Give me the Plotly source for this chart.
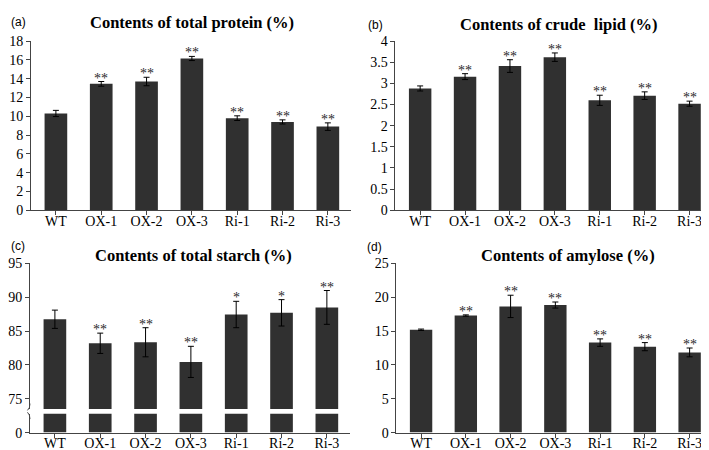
import plotly.graph_objects as go

W, H = 709, 450

lines = ["WT", "OX-1", "OX-2", "OX-3", "Ri-1", "Ri-2", "Ri-3"]

protein = [10.3, 13.45, 13.7, 16.15, 9.8, 9.4, 8.9]
protein_err = [0.33, 0.25, 0.45, 0.22, 0.25, 0.22, 0.4]
protein_sig = ["", "**", "**", "**", "**", "**", "**"]

lipid = [2.88, 3.16, 3.41, 3.62, 2.6, 2.71, 2.52]
lipid_err = [0.06, 0.07, 0.15, 0.1, 0.12, 0.09, 0.06]
lipid_sig = ["", "**", "**", "**", "**", "**", "**"]

starch = [86.75, 83.2, 83.35, 80.45, 87.45, 87.7, 88.5]
starch_err = [1.35, 1.5, 2.15, 2.3, 1.95, 1.95, 2.5]
starch_sig = ["", "**", "**", "**", "*", "*", "**"]

amylose = [15.2, 17.3, 18.65, 18.85, 13.3, 12.7, 11.85]
amylose_err = [0.1, 0.1, 1.65, 0.45, 0.55, 0.6, 0.65]
amylose_sig = ["", "**", "**", "**", "**", "**", "**"]

BAR = "#303030"
AX = "#444444"
SERIF = "Liberation Serif"


def fx(p):
    return p / W


def fy(p):
    return 1 - p / H


fig = go.Figure()


def bars(vals, errs, xa, ya, with_err=True):
    fig.add_trace(go.Bar(
        x=list(range(len(lines))), y=vals, marker_color=BAR, marker_line_width=0,
        error_y=dict(type="data", array=errs, color="black", thickness=1, width=3,
                     visible=with_err),
        xaxis=xa, yaxis=ya, showlegend=False, hoverinfo="skip",
    ))


def stars(vals, errs, sig, xr, yr):
    for i, (v, e, s) in enumerate(zip(vals, errs, sig)):
        if s:
            fig.add_annotation(x=i, y=v + e, xref=xr, yref=yr, text=s, showarrow=False,
                               yanchor="bottom", yshift=-6,
                               font=dict(family=SERIF, size=14, color="#2a2a2a"))


bars(protein, protein_err, "x", "y")
bars(lipid, lipid_err, "x2", "y2")
bars(starch, starch_err, "x3", "y3")
bars(starch, starch_err, "x3", "y5", with_err=False)
bars(amylose, amylose_err, "x4", "y4")

stars(protein, protein_err, protein_sig, "x", "y")
stars(lipid, lipid_err, lipid_sig, "x2", "y2")
stars(starch, starch_err, starch_sig, "x3", "y3")
stars(amylose, amylose_err, amylose_sig, "x4", "y4")

tickfont = dict(family=SERIF, size=14, color="black")
xcommon = dict(range=[-0.55, 6.5], tickmode="array", tickvals=list(range(7)), ticktext=lines,
               showline=True, linecolor=AX, linewidth=1, ticks="outside", ticklen=4,
               tickcolor=AX, tickson="boundaries", tickfont=tickfont, showgrid=False,
               zeroline=False, ticklabelstandoff=-6)
ycommon = dict(showline=True, linecolor=AX, linewidth=1, ticks="outside", ticklen=4,
               tickcolor=AX, tickfont=tickfont, showgrid=False, zeroline=False)

fig.update_layout(
    width=W, height=H, margin=dict(l=0, r=0, t=0, b=0),
    paper_bgcolor="white", plot_bgcolor="white", bargap=0.5, showlegend=False,
    xaxis=dict(domain=[fx(22), fx(342)], anchor="y", **xcommon),
    yaxis=dict(domain=[fy(202), fy(27)], anchor="x", range=[0, 18], dtick=2, **ycommon),
    xaxis2=dict(domain=[fx(387), fx(704)], anchor="y2", **xcommon),
    yaxis2=dict(domain=[fy(202), fy(27)], anchor="x2", range=[0, 4], dtick=0.5, **ycommon),
    xaxis3=dict(domain=[fx(21), fx(341)], anchor="y5", **xcommon),
    yaxis3=dict(domain=[fy(407.5), fy(257)], anchor="x3", range=[73.5, 95],
                tickvals=[75, 80, 85, 90, 95], **ycommon),
    yaxis5=dict(domain=[fy(432), fy(412.5)], anchor="x3", range=[0, 2.75],
                tickvals=[0], **ycommon),
    xaxis4=dict(domain=[fx(388), fx(704)], anchor="y4", **xcommon),
    yaxis4=dict(domain=[fy(432), fy(257)], anchor="x4", range=[0, 25], dtick=5, **ycommon),
)

titles = [
    ("Contents of total protein (%)", 183, 7.5),
    ("Contents of crude  lipid (%)", 551, 10),
    ("Contents of total starch (%)", 185, 249),
    ("Contents of amylose (%)", 560, 249),
]
for t, cx, cy in titles:
    fig.add_annotation(x=fx(cx), y=fy(cy), xref="paper", yref="paper", text="<b>" + t + "</b>",
                       showarrow=False, xanchor="center", yanchor="middle",
                       font=dict(family=SERIF, size=16.5, color="black"))

panels = [("(a)", 0, 7.5), ("(b)", 358, 10), ("(c)", 0, 239), ("(d)", 357, 240)]
for t, lx, ly in panels:
    fig.add_annotation(x=fx(lx), y=fy(ly), xref="paper", yref="paper", text=t,
                       showarrow=False, xanchor="left", yanchor="middle",
                       font=dict(family="Liberation Sans", size=12, color="black"))

# axis break marks on panel (c)
for path in ["M {} {} Q {} {} {} {}".format(fx(21), fy(402), fx(21), fy(407), fx(18.5), fy(409)),
             "M {} {} Q {} {} {} {}".format(fx(21), fy(418), fx(21), fy(413), fx(18.5), fy(411))]:
    fig.add_shape(type="path", path=path, xref="paper", yref="paper",
                  line=dict(color=AX, width=1))

fig.write_html("out.html")
